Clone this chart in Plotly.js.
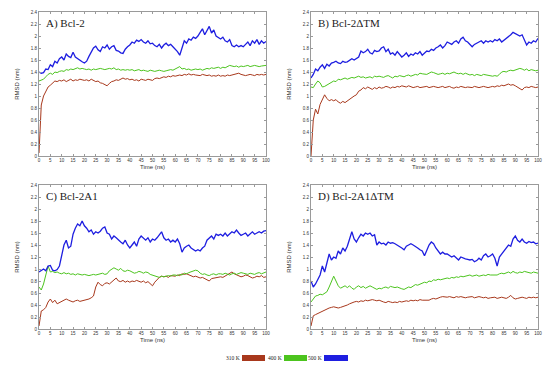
<!DOCTYPE html>
<html>
<head>
<meta charset="utf-8">
<script src="https://cdn.plot.ly/plotly-3.0.1.min.js"></script>
<style>html,body{margin:0;padding:0;background:#fff;}#chart{width:550px;height:369px;}</style>
</head>
<body>
<div id="chart"></div>
<script>
// Time axis (ns), one sample per ns
var time = [];
for (var i = 0; i <= 100; i++) time.push(i);

var panelTitles = ["A) Bcl-2", "B) Bcl-2\u0394TM", "C) Bcl-2A1", "D) Bcl-2A1\u0394TM"];
var tempLabels = ["310 K", "400 K", "500 K"];
var xTickVals = [0,5,10,15,20,25,30,35,40,45,50,55,60,65,70,75,80,85,90,95,100];
var yTickVals = [0,0.2,0.4,0.6,0.8,1,1.2,1.4,1.6,1.8,2,2.2,2.4];

// Panel A: Bcl-2
var a310 = [0.05,0.85,1.00,1.08,1.15,1.18,1.22,1.25,1.24,1.26,
 1.25,1.27,1.24,1.26,1.28,1.25,1.27,1.26,1.28,1.27,
 1.26,1.27,1.25,1.28,1.26,1.24,1.25,1.22,1.21,1.19,
 1.17,1.21,1.24,1.25,1.27,1.26,1.28,1.30,1.28,1.29,
 1.27,1.28,1.26,1.27,1.25,1.28,1.27,1.26,1.28,1.27,
 1.26,1.29,1.30,1.29,1.31,1.32,1.31,1.33,1.32,1.34,
 1.33,1.34,1.35,1.34,1.36,1.35,1.37,1.35,1.36,1.35,
 1.35,1.34,1.36,1.35,1.34,1.35,1.33,1.34,1.33,1.35,
 1.33,1.34,1.33,1.35,1.34,1.35,1.36,1.37,1.38,1.36,
 1.35,1.34,1.35,1.36,1.35,1.34,1.36,1.35,1.36,1.35,1.36];
var a400 = [1.25,1.26,1.28,1.32,1.36,1.38,1.36,1.40,1.39,1.41,
 1.42,1.41,1.44,1.43,1.45,1.44,1.46,1.47,1.45,1.46,
 1.45,1.44,1.45,1.43,1.45,1.44,1.45,1.46,1.45,1.44,
 1.45,1.46,1.45,1.47,1.44,1.45,1.43,1.44,1.43,1.44,
 1.43,1.44,1.42,1.43,1.44,1.42,1.43,1.42,1.41,1.43,
 1.42,1.41,1.42,1.43,1.42,1.41,1.42,1.43,1.44,1.43,
 1.45,1.47,1.49,1.45,1.46,1.44,1.45,1.43,1.44,1.45,
 1.44,1.45,1.43,1.44,1.46,1.45,1.47,1.46,1.47,1.48,
 1.46,1.48,1.47,1.49,1.51,1.50,1.49,1.50,1.48,1.50,
 1.49,1.50,1.51,1.49,1.50,1.51,1.50,1.49,1.50,1.51,1.51];
var a500 = [1.40,1.38,1.39,1.45,1.44,1.52,1.49,1.58,1.55,1.62,
 1.65,1.60,1.70,1.66,1.64,1.73,1.65,1.62,1.60,1.57,
 1.55,1.58,1.66,1.74,1.80,1.83,1.77,1.74,1.82,1.80,
 1.85,1.78,1.82,1.84,1.76,1.75,1.72,1.71,1.78,1.82,
 1.85,1.90,1.88,1.93,1.91,1.94,1.90,1.88,1.92,1.87,
 1.88,1.84,1.82,1.86,1.80,1.85,1.88,1.84,1.86,1.82,
 1.78,1.74,1.68,1.80,1.92,1.88,1.95,1.93,1.98,1.96,
 2.00,2.06,2.12,2.02,2.08,2.16,2.05,2.10,2.00,1.98,
 1.95,1.98,1.92,1.90,1.94,1.84,1.82,1.85,1.82,1.84,
 1.82,1.86,1.90,1.84,1.92,1.88,1.94,1.86,1.92,1.88,1.91];

// Panel B: Bcl-2ΔTM
var b310 = [0.00,0.60,0.78,0.70,0.86,0.95,1.02,0.96,0.92,0.94,
 0.92,0.94,0.90,0.88,0.91,0.89,0.92,0.95,0.98,1.00,
 1.02,1.08,1.10,1.14,1.12,1.15,1.13,1.11,1.14,1.12,
 1.15,1.13,1.14,1.16,1.15,1.13,1.15,1.14,1.16,1.15,
 1.17,1.16,1.15,1.17,1.16,1.14,1.15,1.16,1.14,1.15,
 1.15,1.16,1.14,1.15,1.16,1.15,1.14,1.15,1.16,1.14,
 1.15,1.16,1.14,1.13,1.15,1.14,1.16,1.15,1.14,1.15,
 1.15,1.14,1.16,1.15,1.14,1.15,1.16,1.15,1.14,1.15,
 1.16,1.15,1.17,1.16,1.18,1.17,1.19,1.20,1.18,1.19,
 1.17,1.15,1.12,1.10,1.14,1.15,1.14,1.16,1.15,1.14,1.15];
var b400 = [1.15,1.14,1.20,1.25,1.22,1.15,1.16,1.18,1.20,1.22,
 1.25,1.24,1.28,1.27,1.29,1.30,1.28,1.30,1.31,1.30,
 1.32,1.33,1.31,1.32,1.30,1.31,1.32,1.30,1.33,1.32,
 1.33,1.32,1.31,1.33,1.34,1.32,1.30,1.33,1.32,1.34,
 1.33,1.32,1.34,1.35,1.33,1.35,1.36,1.35,1.38,1.37,
 1.37,1.36,1.38,1.40,1.39,1.38,1.36,1.37,1.38,1.36,
 1.38,1.37,1.39,1.40,1.38,1.37,1.38,1.36,1.38,1.37,
 1.35,1.36,1.34,1.36,1.35,1.34,1.36,1.35,1.34,1.33,
 1.33,1.34,1.33,1.36,1.40,1.41,1.40,1.42,1.43,1.42,
 1.43,1.44,1.46,1.45,1.43,1.45,1.42,1.44,1.43,1.42,1.43];
var b500 = [1.30,1.36,1.45,1.42,1.48,1.52,1.46,1.53,1.50,1.55,
 1.56,1.58,1.55,1.54,1.58,1.56,1.57,1.60,1.62,1.60,
 1.62,1.65,1.75,1.72,1.74,1.78,1.72,1.70,1.76,1.74,
 1.75,1.80,1.82,1.74,1.78,1.70,1.72,1.68,1.74,1.70,
 1.65,1.68,1.72,1.66,1.70,1.68,1.72,1.70,1.74,1.68,
 1.72,1.75,1.74,1.78,1.76,1.80,1.82,1.85,1.80,1.84,
 1.90,1.88,1.86,1.90,1.92,1.88,1.95,1.98,1.92,1.90,
 1.85,1.82,1.86,1.88,1.90,1.92,1.88,1.92,1.90,1.92,
 1.90,1.94,1.92,1.95,1.90,1.93,1.95,1.98,2.02,2.06,
 2.04,2.02,2.00,2.02,1.92,1.85,1.90,1.88,1.92,1.90,1.96];

// Panel C: Bcl-2A1
var c310 = [0.05,0.30,0.32,0.36,0.45,0.50,0.44,0.48,0.42,0.44,
 0.45,0.47,0.50,0.48,0.46,0.45,0.47,0.48,0.46,0.47,
 0.47,0.49,0.50,0.52,0.55,0.70,0.78,0.74,0.72,0.76,
 0.77,0.75,0.78,0.82,0.85,0.80,0.79,0.81,0.78,0.80,
 0.78,0.80,0.79,0.81,0.80,0.78,0.80,0.77,0.79,0.75,
 0.72,0.78,0.82,0.86,0.88,0.87,0.88,0.86,0.89,0.88,
 0.88,0.90,0.89,0.92,0.91,0.92,0.90,0.88,0.87,0.88,
 0.87,0.85,0.86,0.84,0.82,0.80,0.84,0.85,0.86,0.87,
 0.87,0.86,0.88,0.90,0.92,0.95,0.92,0.90,0.88,0.87,
 0.88,0.90,0.89,0.87,0.85,0.86,0.88,0.87,0.89,0.86,0.87];
var c400 = [0.70,0.65,0.75,0.90,1.05,0.95,0.96,0.94,0.95,0.93,
 0.92,0.94,0.92,0.93,0.91,0.92,0.90,0.92,0.91,0.90,
 0.91,0.90,0.89,0.90,0.91,0.90,0.91,0.92,0.93,0.91,
 0.92,0.97,0.99,1.02,1.00,0.98,1.01,0.97,0.96,0.98,
 0.97,0.95,0.93,0.94,0.96,0.95,0.93,0.95,0.94,0.91,
 0.90,0.88,0.87,0.86,0.88,0.87,0.88,0.89,0.88,0.90,
 0.90,0.89,0.91,0.90,0.93,0.92,0.94,0.95,0.96,0.98,
 0.97,0.93,0.91,0.92,0.90,0.89,0.91,0.92,0.90,0.92,
 0.92,0.91,0.93,0.92,0.90,0.92,0.93,0.91,0.92,0.94,
 0.93,0.92,0.91,0.93,0.92,0.91,0.93,0.94,0.92,0.94,0.95];
var c500 = [0.95,0.98,1.00,0.97,1.05,1.06,0.98,0.97,0.99,1.05,
 1.22,1.40,1.48,1.35,1.38,1.58,1.68,1.75,1.72,1.80,
 1.72,1.68,1.62,1.65,1.58,1.62,1.60,1.63,1.68,1.70,
 1.60,1.58,1.50,1.55,1.52,1.48,1.45,1.42,1.48,1.40,
 1.35,1.40,1.45,1.38,1.50,1.55,1.52,1.48,1.52,1.45,
 1.50,1.48,1.52,1.58,1.62,1.52,1.48,1.50,1.45,1.48,
 1.45,1.50,1.42,1.28,1.35,1.38,1.40,1.35,1.32,1.30,
 1.32,1.30,1.35,1.38,1.48,1.52,1.55,1.50,1.58,1.56,
 1.58,1.55,1.60,1.55,1.58,1.62,1.60,1.65,1.60,1.56,
 1.58,1.60,1.55,1.58,1.62,1.58,1.60,1.62,1.60,1.63,1.64];

// Panel D: Bcl-2A1ΔTM
var d310 = [0.05,0.22,0.24,0.26,0.27,0.30,0.31,0.34,0.35,0.36,
 0.37,0.36,0.35,0.36,0.37,0.38,0.40,0.42,0.44,0.45,
 0.46,0.45,0.47,0.46,0.48,0.47,0.48,0.49,0.48,0.47,
 0.48,0.46,0.45,0.44,0.46,0.45,0.44,0.45,0.44,0.46,
 0.45,0.46,0.47,0.46,0.48,0.47,0.48,0.47,0.49,0.48,
 0.48,0.47,0.48,0.50,0.51,0.50,0.52,0.53,0.54,0.53,
 0.53,0.54,0.53,0.52,0.54,0.53,0.54,0.53,0.52,0.53,
 0.53,0.54,0.52,0.53,0.54,0.53,0.52,0.53,0.51,0.52,
 0.52,0.53,0.51,0.52,0.53,0.52,0.51,0.53,0.56,0.52,
 0.50,0.51,0.52,0.53,0.52,0.51,0.53,0.52,0.53,0.52,0.53];
var d400 = [0.45,0.50,0.55,0.56,0.58,0.57,0.60,0.62,0.70,0.78,
 0.88,0.80,0.72,0.68,0.70,0.72,0.69,0.72,0.68,0.66,
 0.70,0.72,0.69,0.71,0.68,0.70,0.72,0.70,0.68,0.66,
 0.68,0.67,0.69,0.70,0.68,0.71,0.70,0.69,0.70,0.68,
 0.67,0.66,0.68,0.70,0.69,0.72,0.74,0.73,0.75,0.76,
 0.78,0.77,0.80,0.79,0.82,0.81,0.83,0.82,0.83,0.84,
 0.85,0.84,0.86,0.85,0.87,0.86,0.88,0.87,0.88,0.89,
 0.90,0.88,0.89,0.90,0.88,0.89,0.90,0.89,0.91,0.90,
 0.90,0.91,0.90,0.92,0.93,0.92,0.94,0.95,0.93,0.96,
 0.94,0.93,0.95,0.94,0.96,0.95,0.94,0.93,0.95,0.94,0.93];
var d500 = [0.80,0.70,0.75,0.82,0.90,1.05,0.95,1.10,1.25,1.15,
 1.20,1.18,1.30,1.25,1.35,1.30,1.38,1.50,1.62,1.50,
 1.45,1.52,1.58,1.55,1.60,1.58,1.60,1.55,1.57,1.40,
 1.45,1.42,1.43,1.40,1.45,1.43,1.44,1.42,1.40,1.38,
 1.35,1.32,1.38,1.40,1.42,1.40,1.38,1.35,1.32,1.30,
 1.22,1.30,1.40,1.45,1.42,1.35,1.30,1.25,1.28,1.25,
 1.25,1.22,1.20,1.22,1.18,1.15,1.20,1.18,1.17,1.16,
 1.15,1.16,1.12,1.14,1.18,1.15,1.22,1.25,1.20,1.22,
 1.25,1.18,1.05,1.20,1.25,1.30,1.35,1.40,1.38,1.50,
 1.55,1.48,1.45,1.50,1.45,1.43,1.46,1.44,1.45,1.42,1.43];

var colors = ["#a8381c", "#4cc41e", "#1e1ee0"];
var widths = [1, 1, 1.3];
var panels = [[a310,a400,a500],[b310,b400,b500],[c310,c400,c500],[d310,d400,d500]];

var W = 550, H = 369;
// plot box positions in pixels: [left, right, top, bottom]
var boxes = [[39,266,12,156],[311,538,12,156],[39,266,185,329],[311,538,185,329]];

var traces = [];
var layout = {
  width: W, height: H,
  margin: {l:0, r:0, t:0, b:0},
  paper_bgcolor: "#fff", plot_bgcolor: "#fff",
  showlegend: false,
  font: {family: "Liberation Sans, Arial, sans-serif", size: 5, color: "#333"},
  annotations: [], shapes: []
};

panels.forEach(function(series, p) {
  var n = p + 1;
  var xa = "x" + (n === 1 ? "" : n), ya = "y" + (n === 1 ? "" : n);
  series.forEach(function(vals, s) {
    traces.push({
      x: time, y: vals, type: "scatter", mode: "lines",
      name: tempLabels[s], xaxis: xa, yaxis: ya,
      line: {color: colors[s], width: widths[s]},
      hoverinfo: "skip"
    });
  });
  var b = boxes[p];
  var axCommon = {
    showgrid: false, zeroline: false, showline: true, linecolor: "#9a9a9a", linewidth: 1,
    mirror: "ticks", ticks: "inside", ticklen: 2, tickcolor: "#9a9a9a",
    tickfont: {size: 4.5, color: "#333"}
  };
  layout["xaxis" + (n === 1 ? "" : n)] = Object.assign({}, axCommon, {
    domain: [b[0]/W, b[1]/W], anchor: ya, range: [0, 100],
    tickmode: "array", tickvals: xTickVals,
    title: {text: "Time (ns)", font: {size: 6, color: "#333"}, standoff: 2}
  });
  layout["yaxis" + (n === 1 ? "" : n)] = Object.assign({}, axCommon, {
    domain: [1 - b[3]/H, 1 - b[2]/H], anchor: xa, range: [0, 2.4],
    tickmode: "array", tickvals: yTickVals,
    title: {text: "RMSD (nm)", font: {size: 6, color: "#333"}, standoff: 10}
  });
  layout.annotations.push({
    text: panelTitles[p], xref: "paper", yref: "paper",
    x: (b[0] + 5)/W, y: 1 - (b[2] + 3)/H, xanchor: "left", yanchor: "top",
    showarrow: false, font: {family: "Liberation Serif, Times New Roman, serif", size: 11, color: "#222"}
  });
});

// Legend: label text followed by a colour swatch
var legendItems = [[226, 242, 265], [267, 284, 307], [308, 324, 348]];
legendItems.forEach(function(it, s) {
  layout.annotations.push({
    text: tempLabels[s], xref: "paper", yref: "paper",
    x: (it[1] - 1)/W, y: 1 - 358/H, xanchor: "right", yanchor: "middle", showarrow: false,
    borderpad: 0,
    font: {family: "Liberation Serif, Times New Roman, serif", size: 5.5, color: "#222"}
  });
  layout.shapes.push({
    type: "rect", xref: "paper", yref: "paper", layer: "below",
    x0: it[1]/W, x1: it[2]/W, y0: 1 - 361/H, y1: 1 - 355/H,
    fillcolor: colors[s], line: {width: 0}
  });
});

Plotly.newPlot("chart", traces, layout, {displayModeBar: false, staticPlot: true});
</script>
</body>
</html>
